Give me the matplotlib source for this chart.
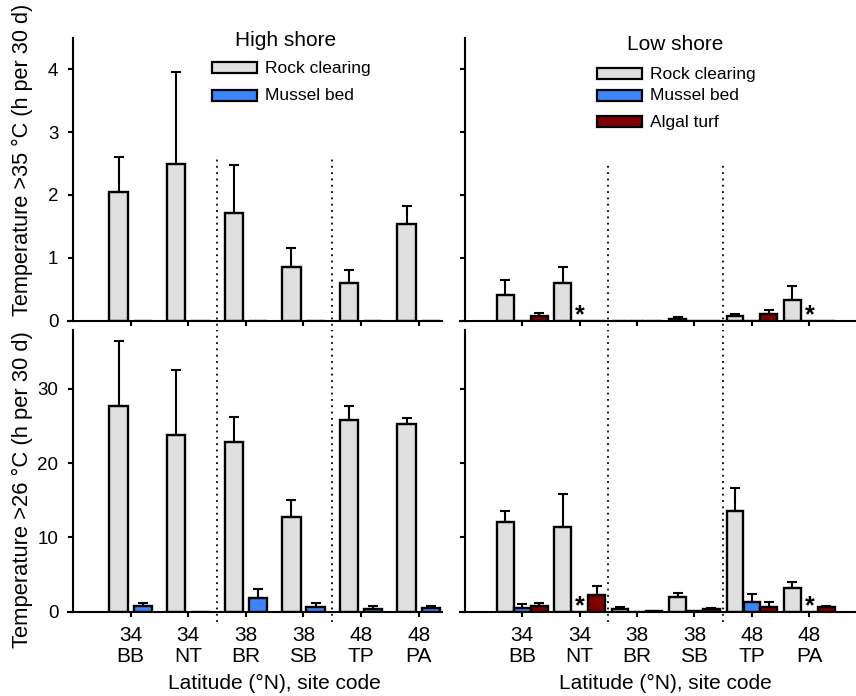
import numpy as np
import matplotlib.pyplot as plt
import matplotlib.patches as patches

plt.rcParams['font.family'] = ['Liberation Sans', 'DejaVu Sans']

sites = ['BB', 'NT', 'BR', 'SB', 'TP', 'PA']
lats = ['34', '34', '38', '38', '48', '48']
series_names = ['Rock clearing', 'Mussel bed', 'Algal turf']
series_colors = ['#e0e0e0', '#3d85ff', '#7f0000']
nan = np.nan

# >35 C, high shore (bar value, top of error bar)
high35_rock = [2.05, 2.49, 1.72, 0.86, 0.59, 1.54]
high35_rock_top = [2.60, 3.96, 2.48, 1.15, 0.81, 1.83]
high35_mussel = [0, 0, 0, 0, 0, 0]
high35_mussel_top = [nan, nan, nan, nan, nan, nan]

# >35 C, low shore
low35_rock = [0.41, 0.60, 0.0, 0.03, 0.07, 0.33]
low35_rock_top = [0.64, 0.85, nan, 0.06, 0.11, 0.55]
low35_mussel = [0, nan, 0, 0, 0, nan]
low35_mussel_top = [nan, nan, nan, nan, nan, nan]
low35_algal = [0.07, 0, 0, 0, 0.10, 0]
low35_algal_top = [0.12, nan, nan, nan, 0.17, nan]

# >26 C, high shore
high26_rock = [27.7, 23.8, 22.9, 12.8, 25.8, 25.3]
high26_rock_top = [36.5, 32.6, 26.2, 15.0, 27.7, 26.1]
high26_mussel = [0.8, 0, 1.85, 0.6, 0.4, 0.5]
high26_mussel_top = [1.2, nan, 3.06, 1.2, 0.8, 0.8]

# >26 C, low shore
low26_rock = [12.1, 11.4, 0.35, 2.0, 13.6, 3.17]
low26_rock_top = [13.6, 15.9, 0.55, 2.5, 16.6, 4.0]
low26_mussel = [0.45, nan, 0, 0.1, 1.27, nan]
low26_mussel_top = [0.95, nan, nan, nan, 2.35, nan]
low26_algal = [0.8, 2.27, 0.05, 0.3, 0.65, 0.55]
low26_algal_top = [1.2, 3.4, nan, 0.5, 1.27, 0.7]

W, H = 856, 696


def px_rect(x0, y0, x1, y1):
    # pixel box (from top-left) -> figure fraction rect
    return [x0 / W, 1 - y1 / H, (x1 - x0) / W, (y1 - y0) / H]


def draw_panel(ax, groups, offsets, width, ymax, yticks, xlim, show_x, show_y):
    x = np.arange(len(sites))
    for (vals, tops), off, col in zip(groups, offsets, series_colors):
        vals = np.array(vals, dtype=float)
        tops = np.array(tops, dtype=float)
        ax.bar(x + off, np.nan_to_num(vals), width, color=col,
               edgecolor='black', linewidth=1.7, zorder=2)
        ok = ~np.isnan(tops)
        up = tops[ok] - vals[ok]
        ax.errorbar(x[ok] + off, vals[ok], yerr=[np.zeros_like(up), up],
                    fmt='none', ecolor='black', elinewidth=1.5,
                    capsize=3.5, capthick=1.5, zorder=3)
        # missing data marked with asterisk
        for xi in x[np.isnan(vals)]:
            ax.annotate('*', (xi + off, 0), xytext=(0, -1.5),
                        textcoords='offset points', ha='center',
                        va='baseline', fontsize=18, fontweight='bold', zorder=4)
    ax.set_xlim(*xlim)
    ax.set_ylim(0, ymax)
    ax.spines['top'].set_visible(False)
    ax.spines['right'].set_visible(False)
    ax.spines['left'].set_position(('data', -1.0))
    for s in ['left', 'bottom']:
        ax.spines[s].set_linewidth(1.5)
    ax.set_yticks(yticks)
    ax.set_xticks(x)
    ax.tick_params(axis='both', direction='out', length=3.6, width=1.5,
                   pad=7)
    ax.tick_params(axis='y', labelsize=13.5)
    ax.tick_params(axis='x', labelsize=15)
    if show_x:
        ax.set_xticklabels([f'{a}\n{b}' for a, b in zip(lats, sites)],
                           linespacing=1.1)
        ax.set_xlabel('Latitude (°N), site code', fontsize=15)
        frac = (2.5 - xlim[0]) / (xlim[1] - xlim[0])
        ax.xaxis.set_label_coords(frac, -0.222)
    else:
        ax.set_xticklabels([])
    if not show_y:
        ax.set_yticklabels([])


def draw_seps(ax, y0, y1):
    for xs in [1.5, 3.5]:
        ax.axvline(xs, ymin=y0, ymax=y1, color='black', lw=1.3,
                   linestyle=(0, (1, 2.5)), clip_on=False, zorder=1)


fig = plt.figure(figsize=(W / 100, H / 100), dpi=100)

xl_left = (-1.088, 5.405)
xl_right = (-1.085, 5.814)
hi_off, hi_w = [-0.21, 0.21], 0.32
lo_off, lo_w = [-0.295, 0.0, 0.295], 0.29

ax1 = fig.add_axes(px_rect(68, 38, 442, 320.5))
draw_panel(ax1, [(high35_rock, high35_rock_top), (high35_mussel, high35_mussel_top)],
           hi_off, hi_w, 4.5, [0, 1, 2, 3, 4], xl_left, False, True)
draw_seps(ax1, -0.04, 0.578)

ax2 = fig.add_axes(px_rect(460, 38, 856, 320.5))
draw_panel(ax2, [(low35_rock, low35_rock_top), (low35_mussel, low35_mussel_top),
                 (low35_algal, low35_algal_top)],
           lo_off, lo_w, 4.5, [0, 1, 2, 3, 4], xl_right, False, False)
draw_seps(ax2, -0.04, 0.55)

ax3 = fig.add_axes(px_rect(68, 329.5, 442, 611.5))
draw_panel(ax3, [(high26_rock, high26_rock_top), (high26_mussel, high26_mussel_top)],
           hi_off, hi_w, 38, [0, 10, 20, 30], xl_left, True, True)
draw_seps(ax3, -0.038, 1.0)

ax4 = fig.add_axes(px_rect(460, 329.5, 856, 611.5))
draw_panel(ax4, [(low26_rock, low26_rock_top), (low26_mussel, low26_mussel_top),
                 (low26_algal, low26_algal_top)],
           lo_off, lo_w, 38, [0, 10, 20, 30], xl_right, True, False)
draw_seps(ax4, -0.038, 1.0)

# y labels
fig.text(22 / W, 1 - 160 / H, 'Temperature >35 °C (h per 30 d)', rotation=90,
         ha='center', va='center', fontsize=15.6)
fig.text(22 / W, 1 - 490 / H, 'Temperature >26 °C (h per 30 d)', rotation=90,
         ha='center', va='center', fontsize=15.8)


# legends drawn by hand
def legend_block(title, tx, ty, px0, rows, n):
    fig.text(tx / W, 1 - ty / H, title, ha='center', va='center', fontsize=15)
    for i in range(n):
        yc = rows[i]
        fig.add_artist(patches.Rectangle((px0 / W, 1 - (yc + 5.5) / H), 45 / W, 11 / H,
                                         transform=fig.transFigure,
                                         facecolor=series_colors[i],
                                         edgecolor='black', linewidth=1.6))
        fig.text((px0 + 53) / W, 1 - (yc + 1) / H, series_names[i],
                 ha='left', va='center', fontsize=12.5)


legend_block('High shore', 286, 41, 212, [67, 95], 2)
legend_block('Low shore', 675, 45, 597, [73, 95, 121], 3)

plt.savefig('out.png', dpi=100)
plt.close()
